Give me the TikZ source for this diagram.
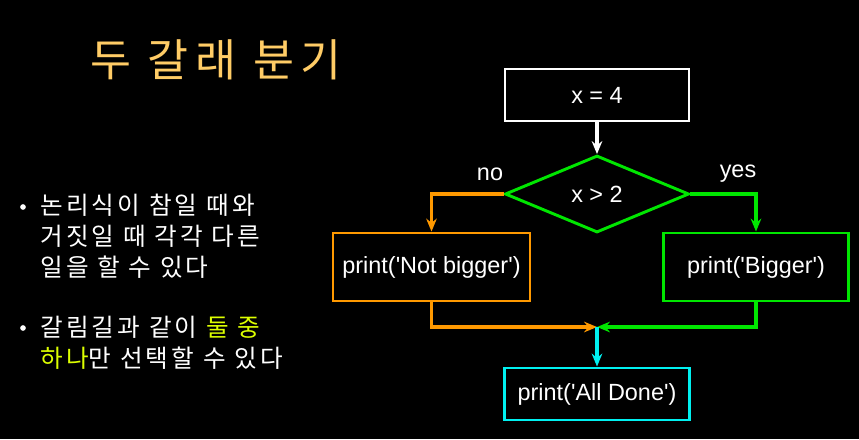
\documentclass[tikz,border=0pt]{standalone}
\usepackage{fontspec}
\setmainfont{Liberation Sans}
\newfontfamily\kofont{Noto Sans CJK KR}
\usetikzlibrary{arrows.meta, positioning, shapes.geometric}

\definecolor{titlegold}{RGB}{255,204,102}
\definecolor{hilite}{RGB}{221,255,0}
\definecolor{noorange}{RGB}{255,153,0}
\definecolor{yesgreen}{RGB}{0,230,0}
\definecolor{donecyan}{RGB}{0,240,240}

\begin{document}
\begin{tikzpicture}[x=0.03cm, y=-0.03cm]
    \tikzstyle{stepbox}=[draw, rectangle, line width=2.5pt, text=white, inner sep=0pt, font=\fontsize{20}{22}\selectfont]
    \tikzstyle{testbox}=[draw=yesgreen, diamond, aspect=2.4, line width=2.5pt, text=white, inner sep=0pt, minimum width=5.52cm, minimum height=2.31cm, font=\fontsize{20}{22}\selectfont]
    \tikzstyle{flow}=[line width=2.8pt, -{Stealth[length=11pt, width=9pt]}]
    \tikzstyle{lbl}=[text=white, font=\fontsize{20}{22}\selectfont]
    \tikzstyle{kotext}=[text=white, font=\kofont\addfontfeatures{LetterSpace=13}\fontsize{21}{26.5}\selectfont, align=left, anchor=west, inner sep=0pt]
    \tikzstyle{dot}=[circle, fill=white, inner sep=0pt, minimum size=0.17cm]

    \fill[black] (0,0) rectangle (859,439);
    \useasboundingbox (0,0) rectangle (859,439);

    % left side
    \node[text=titlegold, font=\kofont\addfontfeatures{LetterSpace=15}\fontsize{38}{42}\selectfont] (title) at (216,60) {두 갈래 분기};

    \node[dot] (dotA) at (23,207) {};
    \node[kotext] (textA) at (40,236.5) {논리식이 참일 때와\\거짓일 때 각각 다른\\일을 할 수 있다};
    \node[dot] (dotB) at (23,328) {};
    \node[kotext] (textB) at (40,342.5) {갈림길과 같이 \textcolor{hilite}{둘 중}\\\textcolor{hilite}{하나}만 선택할 수 있다};

    % flowchart
    \node[stepbox, draw=white, minimum width=5.52cm, minimum height=1.56cm] (init) at (597,95) {x = 4};
    \node[testbox] (cond) at (597,194) {x > 2};
    \node[stepbox, draw=noorange, minimum width=5.91cm, minimum height=2.04cm] (nobox) at (431.5,267) {print(\textquotesingle Not bigger\textquotesingle)};
    \node[stepbox, draw=yesgreen, minimum width=5.55cm, minimum height=2.04cm] (yesbox) at (756,267) {print(\textquotesingle Bigger\textquotesingle)};
    \node[stepbox, draw=donecyan, minimum width=5.55cm, minimum height=1.56cm] (done) at (597,394) {print(\textquotesingle All Done\textquotesingle)};

    \node[lbl] (nolabel) at (490,174) {no};
    \node[lbl] (yeslabel) at (738,174) {yes};

    \coordinate (merge) at (597,327);

    \draw[flow, white] (init.south) -- (cond.north);
    \draw[flow, noorange] (cond.west) -| (nobox.north);
    \draw[flow, yesgreen] (cond.east) -| (yesbox.north);
    \draw[flow, noorange] (nobox.south) |- (merge);
    \draw[flow, yesgreen] (yesbox.south) |- (merge);
    \draw[flow, donecyan] (merge) -- (done.north);
\end{tikzpicture}
\end{document}
